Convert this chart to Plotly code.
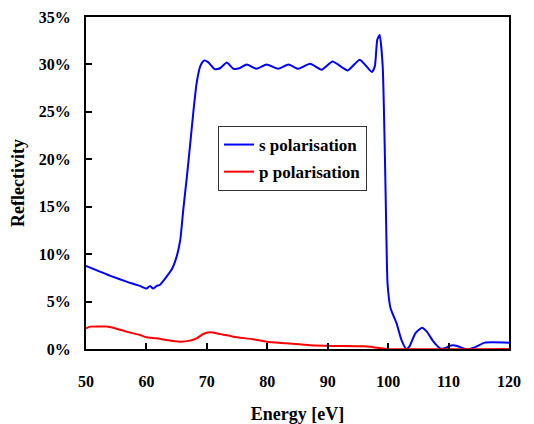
import plotly.graph_objects as go

s_energy = [50, 52.3, 54.5, 56.7, 58.9, 60, 60.6, 61.1, 61.7, 62.2, 63.3, 64.2, 65.0, 65.6, 66.1, 66.7,
            67.2, 67.8, 68.3, 68.9, 69.5, 70.2, 71.3, 72.2, 73.3, 74.4, 75.4, 76.6, 78.2, 79.9, 81.8,
            83.5, 85.1, 87.1, 89.0, 90.8, 93.3, 95.3, 97.3, 97.8, 98.2, 98.6, 99.1, 99.5, 99.7, 99.9,
            100.4, 101.4, 102.2, 103.0, 103.5, 104.5, 105.6, 106.4, 107.5, 108.6, 109.4, 110.2, 111.3,
            112.7, 113.5, 114.6, 116.0, 120]
s_refl = [8.76, 8.16, 7.6, 7.1, 6.65, 6.37, 6.65, 6.37, 6.65, 6.75, 7.6, 8.4, 9.74, 11.5, 14.7, 18.2,
          21.35, 25.2, 28.0, 29.8, 30.4, 30.25, 29.5, 29.6, 30.2, 29.55, 29.6, 30.0, 29.55, 30.0, 29.55,
          30.0, 29.55, 30.07, 29.44, 30.3, 29.37, 30.5, 29.2, 29.8, 32.6, 33.1, 29.8, 19.2, 12.2, 6.9,
          4.3, 2.7, 0.95, 0.0, 0.25, 1.65, 2.25, 1.83, 0.77, 0.07, 0.07, 0.35, 0.35,
          0.0, 0.0, 0.25, 0.67, 0.67]

p_energy = [50, 50.7, 53.4, 54.5, 56.7, 58.9, 60, 61.7, 63.3, 65.6, 67.2, 68.3, 69.4, 70.5, 72.2, 74.4,
            77.7, 79.9, 83.2, 87.1, 90.9, 95.9, 97.6, 99.8, 120]
p_refl = [2.18, 2.36, 2.36, 2.25, 1.83, 1.48, 1.23, 1.13, 0.95, 0.77, 0.88, 1.13, 1.58, 1.76, 1.58, 1.30,
          1.02, 0.77, 0.6, 0.39, 0.32, 0.28, 0.18, 0.0, 0.0]

x_ticks = [50, 60, 70, 80, 90, 100, 110, 120]
y_ticks = [0, 5, 10, 15, 20, 25, 30, 35]
y_labels = [f"{v}%" for v in y_ticks]

font_family = "Liberation Serif"

fig = go.Figure()
fig.add_trace(go.Scatter(x=s_energy, y=s_refl, mode="lines", name="<b>s polarisation</b>",
                         legendgroup="s",
                         line=dict(color="#0000ff", width=2, shape="spline", smoothing=0.5)))
fig.add_trace(go.Scatter(x=p_energy, y=p_refl, mode="lines", name="<b>p polarisation</b>",
                         legendgroup="p",
                         line=dict(color="#ff0000", width=2, shape="spline", smoothing=0.5)))

W, H = 526, 416
L, T, PW, PH = 78, 9, 423, 332
fig.update_layout(
    width=W, height=H,
    margin=dict(l=L, r=W - L - PW, t=T, b=H - T - PH),
    paper_bgcolor="white", plot_bgcolor="white",
    font=dict(family=font_family, size=16, color="black"),
    showlegend=True,
    legend=dict(x=(218 - 86) / PW, y=1 - (126 - 17) / PH, xanchor="left", yanchor="top",
                bgcolor="white", bordercolor="#333333", borderwidth=1,
                font=dict(family=font_family, size=17, color="black"),
                tracegroupgap=2, itemwidth=30),
)
fig.update_xaxes(
    range=[50, 120], tickvals=x_ticks, ticktext=[str(v) for v in x_ticks],
    ticks="inside", ticklen=6, tickwidth=2, tickcolor="black",
    showline=True, linecolor="black", linewidth=2, mirror=True,
    showgrid=False, zeroline=False, ticklabelstandoff=17, automargin=False,
    tickfont=dict(family=font_family, size=16, color="black", weight="bold"),
    title=dict(text="<b>Energy [eV]</b>", font=dict(family=font_family, size=18), standoff=18),
)
fig.update_yaxes(
    range=[0, 35], tickvals=y_ticks, ticktext=y_labels,
    ticks="inside", ticklen=6, tickwidth=2, tickcolor="black",
    showline=True, linecolor="black", linewidth=2, mirror=True,
    showgrid=False, zeroline=False, ticklabelstandoff=10, automargin=False,
    tickfont=dict(family=font_family, size=16, color="black", weight="bold"),
    title=dict(text="<b>Reflectivity</b>", font=dict(family=font_family, size=18), standoff=9),
)

fig.write_html("out.html")
